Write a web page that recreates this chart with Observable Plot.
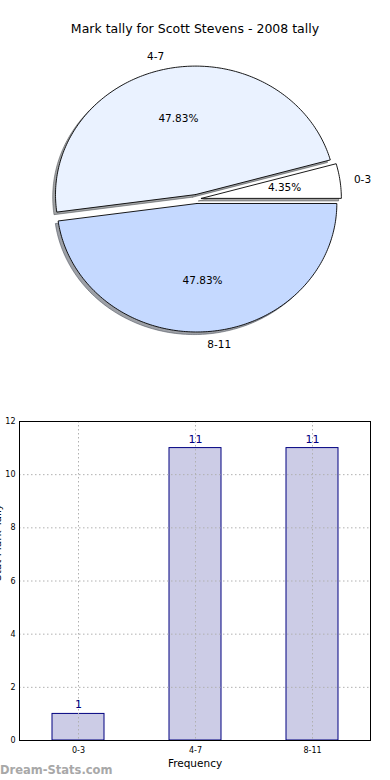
<!DOCTYPE html>
<html>
<head>
<meta charset="utf-8">
<script src="https://cdn.jsdelivr.net/npm/d3@7"></script>
<script src="https://cdn.jsdelivr.net/npm/@observablehq/plot@0.6"></script>
<style>
  html, body { margin: 0; padding: 0; background: white; overflow: hidden; }
  #wrap { position: relative; width: 390px; height: 780px; overflow: hidden; font-family: "DejaVu Sans", sans-serif; }
  #pie { position: absolute; left: 0; top: 0; }
  #bar { position: absolute; left: 0; top: 400px; }
  #title { position: absolute; left: 0; top: 21px; width: 390px; text-align: center; font-size: 12.5px; color: #000; }
  #mark { position: absolute; left: 0; top: 763px; font-size: 11.5px; font-weight: bold; color: #a8a8a8; }
</style>
</head>
<body>
<div id="wrap">
  <div id="pie"></div>
  <div id="bar"></div>
  <div id="title">Mark tally for Scott Stevens - 2008 tally</div>
  <div id="mark">Dream-Stats.com</div>
</div>
<script>
// ---- data ----
const pieLabels = ["0-3", "4-7", "8-11"];
const pieValues = [1, 11, 11];
const pieColors = ["#FFFFFF", "#EAF2FF", "#C5D9FF"];

const barCategories = ["0-3", "4-7", "8-11"];
const barValues = [1, 11, 11];
const yTicks = [0, 2, 4, 6, 8, 10, 12];

// ---- pie geometry (computed from data) ----
const total = d3.sum(pieValues);
let acc = 0;
const slices = pieLabels.map((label, i) => {
  const a0 = acc / total * 2 * Math.PI;
  acc += pieValues[i];
  const a1 = acc / total * 2 * Math.PI;
  return {label, value: pieValues[i], pct: pieValues[i] / total * 100, a0, a1, mid: (a0 + a1) / 2, color: pieColors[i]};
});
const explode = 0.035;
function wedge(s, ox = 0, oy = 0) {
  const cx = explode * Math.cos(s.mid) + ox, cy = explode * Math.sin(s.mid) + oy;
  const pts = [[cx, cy]];
  const n = Math.max(4, Math.ceil((s.a1 - s.a0) / (Math.PI / 180)));
  for (let k = 0; k <= n; k++) {
    const a = s.a0 + (s.a1 - s.a0) * k / n;
    pts.push([cx + Math.cos(a), cy + Math.sin(a)]);
  }
  pts.push([cx, cy]);
  return pts;
}
function darker(c) {
  const r = d3.rgb(c);
  return d3.rgb(r.r * 0.3, r.g * 0.3, r.b * 0.3).formatHex();
}
const labelPts = slices.map(s => ({
  label: s.label,
  x: explode * Math.cos(s.mid) + 1.1 * Math.cos(s.mid),
  y: explode * Math.sin(s.mid) + 1.1 * Math.sin(s.mid),
  right: Math.cos(s.mid) >= 0
}));
const pctPts = slices.map(s => ({
  text: s.pct.toFixed(2) + "%",
  x: explode * Math.cos(s.mid) + 0.6 * Math.cos(s.mid),
  y: explode * Math.sin(s.mid) + 0.6 * Math.sin(s.mid)
}));

const pieMarks = [];
slices.forEach(s => {
  pieMarks.push(Plot.line(wedge(s, -0.02, -0.02), {x: d => d[0], y: d => d[1], fill: darker(s.color), fillOpacity: 0.5, stroke: darker(s.color), strokeOpacity: 0.5, strokeWidth: 1}));
});
slices.forEach(s => {
  pieMarks.push(Plot.line(wedge(s), {x: d => d[0], y: d => d[1], fill: s.color, stroke: "black", strokeWidth: 0.9, strokeLinejoin: "miter"}));
});
pieMarks.push(Plot.text(labelPts.filter(d => d.right), {x: "x", y: "y", text: "label", textAnchor: "start", fontSize: 10.5, fill: "black"}));
pieMarks.push(Plot.text(labelPts.filter(d => !d.right), {x: "x", y: "y", text: "label", textAnchor: "end", fontSize: 10.5, fill: "black"}));
pieMarks.push(Plot.text(pctPts, {x: "x", y: "y", text: "text", fontSize: 10.5, fill: "black"}));

const pie = Plot.plot({
  width: 390, height: 380,
  marginLeft: 56, marginRight: 54, marginTop: 70, marginBottom: 53,
  style: {fontFamily: "DejaVu Sans", background: "transparent", color: "black"},
  x: {domain: [-1, 1], axis: null},
  y: {domain: [-1, 1], axis: null},
  marks: pieMarks
});
document.getElementById("pie").appendChild(pie);

// ---- bar chart ----
const barData = barCategories.map((c, i) => ({cat: c, value: barValues[i]}));
const bar = Plot.plot({
  width: 390, height: 380,
  marginLeft: 19, marginRight: 20, marginTop: 21, marginBottom: 40,
  style: {fontFamily: "DejaVu Sans", fontSize: "8px", background: "transparent", color: "black"},
  x: {domain: barCategories, paddingInner: 0.556, paddingOuter: 0.278, label: null, tickSize: 0, tickPadding: 7},
  y: {domain: [0, 12], ticks: yTicks, tickSize: 0, tickPadding: 4, label: null},
  marks: [
    Plot.barY(barData, {x: "cat", y: "value", fill: "#CCCCE6", stroke: "#000080", strokeWidth: 1}),
    Plot.ruleY(yTicks, {stroke: "#b0b0b0", strokeDasharray: "1.5,2.5"}),
    Plot.ruleX(barCategories, {stroke: "#b0b0b0", strokeDasharray: "1.5,2.5"}),
    Plot.text(barData, {x: "cat", y: "value", text: d => String(d.value), dy: -9, fill: "#000080", fontSize: 11}),
    Plot.text(["Frequency"], {frameAnchor: "bottom", dy: 26, fontSize: 10.5, fill: "black"}),
    Plot.text(["Stat Mark Tally"], {frameAnchor: "left", dx: -22, rotate: -90, fontSize: 10.5, fill: "black"}),
    Plot.frame({stroke: "black", strokeWidth: 1})
  ]
});
document.getElementById("bar").appendChild(bar);
</script>
</body>
</html>
